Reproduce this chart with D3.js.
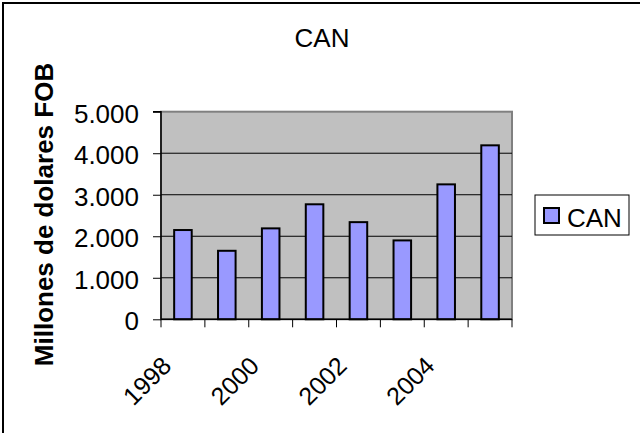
<!DOCTYPE html>
<html><head><meta charset="utf-8">
<script src="https://cdn.jsdelivr.net/npm/d3@7"></script>
<style>html,body{margin:0;padding:0;background:#fff;}svg{display:block;}</style>
</head><body>
<script>
const years = ["1998","1999","2000","2001","2002","2003","2004","2005"];
const values = [2150, 1650, 2190, 2770, 2340, 1900, 3250, 4190];
const yTicks = [0, 1000, 2000, 3000, 4000, 5000];
const shownYears = ["1998","2000","2002","2004"];
const seriesName = "CAN";
const chartTitle = "CAN";
const yTitle = "Millones de dolares FOB";

const W = 640, H = 433;
const font = "'Liberation Sans', Arial, sans-serif";
const svg = d3.select("body").append("svg").attr("width", W).attr("height", H);

svg.append("rect").attr("x", 3).attr("y", 3).attr("width", 700).attr("height", 500)
  .attr("fill", "#fff").attr("stroke", "#000").attr("stroke-width", 2);

const pl = 161, pr = 512, pt = 111.7, pb = 319.3;
const x = d3.scaleBand().domain(years).range([pl, pr]).paddingInner(0.6).paddingOuter(0.3);
const xb = d3.scaleBand().domain(years).range([pl, pr]);
const y = d3.scaleLinear().domain([0, 5000]).range([pb, pt]);

svg.append("rect").attr("x", pl).attr("y", pt).attr("width", pr - pl).attr("height", pb - pt)
  .attr("fill", "#c0c0c0").attr("stroke", "#808080").attr("stroke-width", 2);

svg.append("g").selectAll("line").data(yTicks.filter(d => d > 0 && d < 5000)).join("line")
  .attr("x1", pl).attr("x2", pr).attr("y1", d => y(d)).attr("y2", d => y(d))
  .attr("stroke", "#000").attr("stroke-width", 1);

svg.append("g").selectAll("rect").data(values).join("rect")
  .attr("x", (d, i) => x(years[i])).attr("width", x.bandwidth())
  .attr("y", d => y(d)).attr("height", d => pb - y(d))
  .attr("fill", "#9999ff").attr("stroke", "#000").attr("stroke-width", 2);

// y axis
const yAxis = d3.axisLeft(y).tickValues(yTicks).tickSize(8).tickPadding(14)
  .tickFormat(d => d3.format(",")(d).replace(/,/g, "."));
const gy = svg.append("g").attr("transform", `translate(${pl},0)`).call(yAxis);
gy.select(".domain").attr("stroke", "#000").attr("stroke-width", 1.5).attr("d", `M-8,${pt}H0V${pb}`);
gy.selectAll(".tick line").attr("stroke", "#000");
gy.selectAll(".tick text").attr("font-family", font).attr("font-size", 26).attr("fill", "#000")
  .attr("dy", "0.4em");

// x axis
const gx = svg.append("g").attr("transform", `translate(0,${pb})`);
gx.append("line").attr("x1", pl).attr("x2", pr).attr("stroke", "#000").attr("stroke-width", 1.5);
const bounds = years.map(d => xb(d)).concat([pr]);
gx.selectAll("line.tk").data(bounds).join("line").attr("class", "tk")
  .attr("x1", d => d).attr("x2", d => d).attr("y1", 0).attr("y2", 8)
  .attr("stroke", "#000");
gx.selectAll("text").data(shownYears).join("text")
  .attr("transform", d => `translate(${xb(d) + xb.bandwidth() / 2 - 10},48) rotate(-45)`)
  .attr("text-anchor", "end").attr("font-family", font).attr("font-size", 25).attr("fill", "#000")
  .text(d => d);

// title
svg.append("text").attr("x", 322).attr("y", 47).attr("text-anchor", "middle")
  .attr("font-family", font).attr("font-size", 26).attr("fill", "#000").text(chartTitle);

// y title
svg.append("text").attr("transform", "translate(53,214.5) rotate(-90)")
  .attr("text-anchor", "middle").attr("font-family", font).attr("font-size", 26)
  .attr("font-weight", "bold").attr("fill", "#000").text(yTitle);

// legend
const lg = svg.append("g");
lg.append("rect").attr("x", 535).attr("y", 195).attr("width", 94).attr("height", 40)
  .attr("fill", "#fff").attr("stroke", "#000").attr("stroke-width", 1);
lg.append("rect").attr("x", 544).attr("y", 208).attr("width", 15).attr("height", 15)
  .attr("fill", "#9999ff").attr("stroke", "#000").attr("stroke-width", 2);
lg.append("text").attr("x", 567).attr("y", 227).attr("font-family", font).attr("font-size", 26)
  .attr("fill", "#000").text(seriesName);
</script>
</body></html>
